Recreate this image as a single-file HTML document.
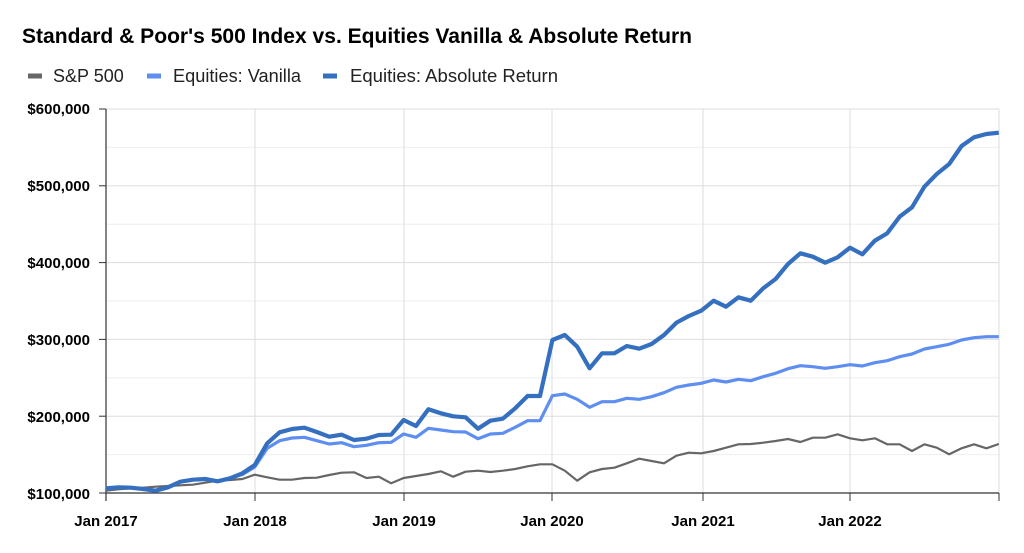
<!DOCTYPE html>
<html><head><meta charset="utf-8"><style>
body{margin:0;background:#fff;width:1024px;height:548px;overflow:hidden;font-family:"Liberation Sans",Arial,sans-serif}
</style></head><body>
<svg id="s" width="1024" height="548" xmlns="http://www.w3.org/2000/svg" font-family="Liberation Sans, Arial, sans-serif">
<text x="22" y="43" font-size="21" font-weight="bold" fill="#000" textLength="670" lengthAdjust="spacingAndGlyphs">Standard &amp; Poor's 500 Index vs. Equities Vanilla &amp; Absolute Return</text>
<line x1="28" y1="76" x2="42" y2="76" stroke="#666" stroke-width="5"/>
<text x="53" y="82" font-size="18" fill="#222">S&amp;P 500</text>
<line x1="147" y1="76" x2="161" y2="76" stroke="#5e8ff0" stroke-width="5"/>
<text x="173" y="82" font-size="18" fill="#222" textLength="128" lengthAdjust="spacingAndGlyphs">Equities: Vanilla</text>
<line x1="323" y1="76" x2="337" y2="76" stroke="#3570c0" stroke-width="5"/>
<text x="350" y="82" font-size="18" fill="#222" textLength="208" lengthAdjust="spacingAndGlyphs">Equities: Absolute Return</text>
<g id="grid"></g>
<g font-size="15" font-weight="bold" fill="#000" text-anchor="end">
<text x="90" y="114">$600,000</text><text x="90" y="191">$500,000</text><text x="90" y="268">$400,000</text>
<text x="90" y="345">$300,000</text><text x="90" y="422">$200,000</text><text x="90" y="499">$100,000</text>
</g>
<g font-size="15" font-weight="bold" fill="#000" text-anchor="middle">
<text x="106" y="526">Jan 2017</text><text x="255" y="526">Jan 2018</text><text x="404" y="526">Jan 2019</text>
<text x="552" y="526">Jan 2020</text><text x="703" y="526">Jan 2021</text><text x="850" y="526">Jan 2022</text>
</g>
<polyline id="g1" fill="none" stroke="#666" stroke-width="2.2" stroke-linejoin="round"/>
<polyline id="g2" fill="none" stroke="#5e8ff0" stroke-width="3.2" stroke-linejoin="round"/>
<polyline id="g3" fill="none" stroke="#3570c0" stroke-width="4.2" stroke-linejoin="round"/>
</svg>
<script>
var NS="http://www.w3.org/2000/svg",g=document.getElementById("grid");
function L(x1,y1,x2,y2,c,w){var l=document.createElementNS(NS,"line");l.setAttribute("x1",x1);l.setAttribute("y1",y1);l.setAttribute("x2",x2);l.setAttribute("y2",y2);l.setAttribute("stroke",c);l.setAttribute("stroke-width",w);g.appendChild(l);}
for(var k=0;k<=10;k++){var y=109+k*38.4;L(106,y,999,y,k%2?"#eee":"#ddd",1);if(k%2==0)L(99,y,106,y,"#333",1);}
[255,404,552,703,850,999].forEach(function(x){L(x,109,x,493,"#ddd",1);L(x,493,x,501,"#333",1);});
L(106,109,106,501,"#333",1.2);L(106,493,999,493,"#333",1.2);
var sp=[490.7,489.3,488.3,487.7,486.7,486,485.3,484.7,482.7,480.7,480,479,474.7,477.3,479.7,479.7,478,477.7,475,472.7,472.3,478,476.7,483.3,478,476,474,471.3,476.7,471.7,470.7,472,470.7,469,466.3,464.3,464.3,470.7,480.7,472.3,469,467.7,463.3,458.7,461,463.3,455.7,452.7,453.3,451,447.7,444.3,444,442.7,441,439,442,437.7,437.7,434.3,438.3,440.3,438.3,444.3,444.3,451,444.3,447.7,454.3,448.3,444.3,448.3,444];
var ab=[488.3,487.3,487.7,489,490.7,487.3,481.7,479.7,479,481.3,478.3,473.3,465,443.3,432.3,429,427.7,432,436.7,434.7,440,438.7,435,434.7,420,426,409.3,413.3,416.3,417.3,428.7,420.7,418.7,408.3,396,396,340,335,346.7,368.3,353.3,353.3,346,348.7,344,335,322.7,316,310.7,300.7,306.7,297.3,300.7,288.3,279,264,253.3,256.7,262.7,257.3,247.7,254.3,240.7,233.3,216.7,207.3,186.7,174,164,146,137.3,134,132.7];
var va=ab.slice(0,11).concat([474.5,467,448.3,440.7,438,437.3,440.7,444,442.7,446.7,445.3,442.7,442.3,434,437.3,428.3,430,431.7,432,438.7,434,433.3,427.3,420.7,420.7,395.7,394,399.3,407.3,401.7,401.7,398.3,399.3,396.7,392.7,387.3,385,383.3,380,382,379.3,380.7,376.7,373.3,368.7,365.7,366.7,368.3,366.7,364.7,366,362.7,360.7,356.7,354,349,346.7,344.3,340,337.7,336.7,336.7]);
function P(id,a){document.getElementById(id).setAttribute("points",a.map(function(y,i){return (106+i*12.4).toFixed(1)+","+y}).join(" "));}
P("g1",sp);P("g2",va);P("g3",ab);
</script>
</body></html>
